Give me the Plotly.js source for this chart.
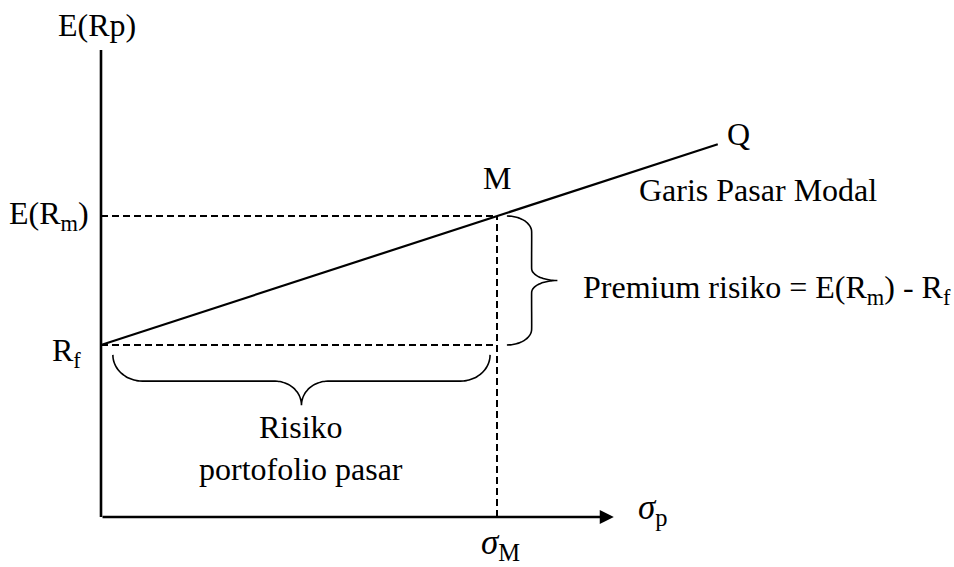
<!DOCTYPE html>
<html>
<head>
<meta charset="utf-8">
<script src="https://cdn.plot.ly/plotly-3.0.1.min.js"></script>
<style>html,body{margin:0;padding:0;background:#fff;}#chart{width:954px;height:567px;}</style>
</head>
<body>
<div id="chart"></div>
<script>
// ---- values (sigma units along x, return units along y) ----
const riskFree = 4;          // R_f
const marketReturn = 7;      // E(R_m)
const marketSigma = 4;       // sigma_M
const cmlSigma = [0, 4, 6.23];      // R_f -> M -> Q
const cmlReturn = [4, 7, 8.67];
const yAxisTop = 10.86;      // end of vertical axis
const xAxisEnd = 5.18;       // arrow tip of horizontal axis

// braces: span start, span end, tip-line position, spine position, point position
const premiumBrace = [4, 7, 4.10, 4.35, 4.61];
const riskBrace = [0.12, 3.93, 3.77, 3.16, 2.60];

// text labels
const labelYAxis = 'E(Rp)';
const labelXAxis = '<i>σ</i><sub>p</sub>';
const labelSigmaM = '<i>σ</i><sub>M</sub>';
const labelRf = 'R<sub>f</sub>';
const labelERm = 'E(R<sub>m</sub>)';
const labelM = 'M';
const labelQ = 'Q';
const labelCML = 'Garis Pasar Modal';
const labelPremium = 'Premium risiko = E(R<sub>m</sub>) - R<sub>f</sub>';
const labelRisk = 'Risiko<br>portofolio pasar';

// ---- brace glyph builder (u along span, v perpendicular) ----
function bracePts(spec, arcLen, midLen) {
  const [a0, a1, base, spine, tip] = spec;
  const D = spine - base, T = tip - spine, m = (a0 + a1) / 2;
  const u = [], v = [];
  const N = 16;
  for (let i = 0; i <= N; i++) { const t = i / N * Math.PI / 2;
    u.push(a0 + arcLen - arcLen * Math.cos(t)); v.push(base + D * Math.sin(t)); }
  for (let i = 0; i <= N; i++) { const t = i / N * Math.PI / 2;
    u.push(m - midLen + midLen * Math.sin(t)); v.push(spine + T * (1 - Math.cos(t))); }
  for (let i = 0; i <= N; i++) { const t = i / N * Math.PI / 2;
    u.push(m + midLen * (1 - Math.cos(t))); v.push(tip - T * Math.sin(t)); }
  for (let i = 0; i <= N; i++) { const t = i / N * Math.PI / 2;
    u.push(a1 - arcLen + arcLen * Math.sin(t)); v.push(spine - D * (1 - Math.cos(t))); }
  return {u, v};
}
const pb = bracePts(premiumBrace, 0.37, 0.28);
const rb = bracePts(riskBrace, 0.30, 0.27);

const FONT = 'Liberation Serif, Times New Roman, serif';
const black = '#000';

const traces = [
  // vertical axis
  {x: [0, 0], y: [0, yAxisTop], mode: 'lines', line: {color: black, width: 2.6}},
  // dashed guides
  {x: [0, marketSigma], y: [riskFree, riskFree], mode: 'lines', line: {color: black, width: 2, dash: '7px,4px'}},
  {x: [0, marketSigma], y: [marketReturn, marketReturn], mode: 'lines', line: {color: black, width: 2, dash: '7px,4px'}},
  {x: [marketSigma, marketSigma], y: [0, marketReturn], mode: 'lines', line: {color: black, width: 2, dash: '7px,4px'}},
  // capital market line
  {x: cmlSigma, y: cmlReturn, mode: 'lines', line: {color: black, width: 2.2}},
  // braces
  {x: pb.v, y: pb.u, mode: 'lines', line: {color: black, width: 1.6, shape: 'spline'}},
  {x: rb.u, y: rb.v, mode: 'lines', line: {color: black, width: 1.6, shape: 'spline'}}
];

function txt(text, x, y, opts, size) {
  return Object.assign({text: text, x: x, y: y, xref: 'x', yref: 'y', showarrow: false,
    font: {family: FONT, size: size || 32, color: black}}, opts || {});
}

const annotations = [
  // horizontal axis with arrow head
  {x: xAxisEnd, y: 0, ax: 0, ay: 0, axref: 'x', ayref: 'y', xref: 'x', yref: 'y',
   showarrow: true, arrowhead: 2, arrowsize: 1.08, arrowwidth: 2.6, arrowcolor: black, text: ''},
  txt(labelYAxis, 0, yAxisTop, {xanchor: 'center', yanchor: 'middle', xshift: -4, yshift: 25}),
  txt(labelXAxis, xAxisEnd, 0, {xanchor: 'left', yanchor: 'middle', xshift: 22, yshift: 8}, 35),
  txt(labelSigmaM, marketSigma, 0, {xanchor: 'center', yanchor: 'middle', xshift: 3, yshift: -27}, 35),
  txt(labelRf, 0, riskFree, {xanchor: 'right', yanchor: 'middle', xshift: -18, yshift: -7}),
  txt(labelERm, 0, marketReturn, {xanchor: 'right', yanchor: 'middle', xshift: -10, yshift: 1}),
  txt(labelM, marketSigma, marketReturn, {xanchor: 'center', yanchor: 'middle', yshift: 38}),
  txt(labelQ, cmlSigma[2], cmlReturn[2], {xanchor: 'center', yanchor: 'middle', xshift: 21, yshift: 10}),
  txt(labelCML, cmlSigma[2], cmlReturn[2], {xanchor: 'center', yanchor: 'middle', xshift: 40, yshift: -46}),
  txt(labelPremium, premiumBrace[4], (premiumBrace[0] + premiumBrace[1]) / 2, {xanchor: 'left', yanchor: 'middle', xshift: 24, yshift: -9}),
  txt(labelRisk, (riskBrace[0] + riskBrace[1]) / 2, riskBrace[4], {xanchor: 'center', yanchor: 'top', yshift: -2})
];

const layout = {
  width: 954, height: 567,
  margin: {l: 0, r: 0, t: 0, b: 0},
  paper_bgcolor: '#fff', plot_bgcolor: '#fff',
  showlegend: false,
  xaxis: {range: [-101 / 99, 853 / 99], visible: false, fixedrange: true},
  yaxis: {range: [-50 / 43, 517 / 43], visible: false, fixedrange: true},
  annotations: annotations,
  hovermode: false
};

Plotly.newPlot('chart', traces, layout, {staticPlot: true, displayModeBar: false});
</script>
</body>
</html>
